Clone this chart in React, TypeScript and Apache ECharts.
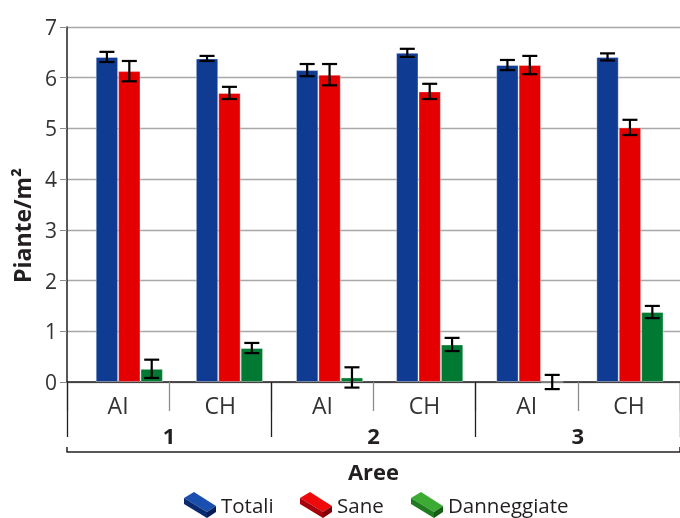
import React, { useEffect, useRef } from "react";
import * as echarts from "echarts";

const categories = ["AI", "CH", "AI", "CH", "AI", "CH"];
const areas = ["1", "2", "3"];
const seriesNames = ["Totali", "Sane", "Danneggiate"];
const totali = [6.41, 6.38, 6.15, 6.49, 6.25, 6.41];
const totaliErr = [0.1, 0.05, 0.12, 0.08, 0.1, 0.07];
const sane = [6.13, 5.7, 6.06, 5.73, 6.25, 5.02];
const saneErr = [0.2, 0.12, 0.21, 0.15, 0.18, 0.15];
const danneggiate = [0.26, 0.67, 0.09, 0.74, 0.0, 1.38];
const danneggiateErr = [0.18, 0.1, 0.2, 0.13, 0.14, 0.12];

const COLORS = ["#0f3c92", "#e40000", "#007a33"];
const FACES = [
  ["#1a4fb0", "#0a2a70", "#071f55"],
  ["#ee0a0a", "#a8000a", "#7e0008"],
  ["#3bab33", "#1f7d1f", "#155c15"],
];
const FONT = "'Open Sans', sans-serif";
const TEXT = "#231f20";
const BAR_W = 22.4;

export default function App() {
  const ref = useRef<HTMLDivElement>(null);
  useEffect(() => {
    if (!ref.current) return;
    const chart = echarts.init(ref.current, undefined, { renderer: "svg" });
    const values = [totali, sane, danneggiate];
    const errs = [totaliErr, saneErr, danneggiateErr];

    const errSeries = values.map((vals, s) => ({
      type: "custom",
      xAxisIndex: 0,
      yAxisIndex: 0,
      z: 5,
      silent: true,
      encode: { x: 0, y: 1 },
      data: vals.map((v, i) => [i, v, errs[s][i]]),
      renderItem: (params: any, api: any) => {
        const i = api.value(0);
        const v = api.value(1);
        const e = api.value(2);
        const x = api.coord([i, v])[0] + (s - 1) * BAR_W;
        const yt = api.coord([i, v + e])[1];
        const yb = api.coord([i, v - e])[1];
        const hw = 7.5;
        const st = { stroke: "#000", lineWidth: 2.2 };
        return {
          type: "group",
          children: [
            { type: "line", shape: { x1: x, y1: yt, x2: x, y2: yb }, style: st },
            { type: "line", shape: { x1: x - hw, y1: yt, x2: x + hw, y2: yt }, style: st },
            { type: "line", shape: { x1: x - hw, y1: yb, x2: x + hw, y2: yb }, style: st },
          ],
        };
      },
    }));

    const barSeries = values.map((vals, s) => ({
      type: "bar",
      name: seriesNames[s],
      xAxisIndex: 0,
      yAxisIndex: 0,
      barWidth: BAR_W,
      barGap: "0%",
      data: vals,
      itemStyle: {
        color: COLORS[s],
        borderColor: "rgba(255,255,255,0.35)",
        borderWidth: 1,
      },
    }));

    const legendGraphics: any[] = [];
    const legendX = [184, 300, 411];
    seriesNames.forEach((name, s) => {
      const ox = legendX[s];
      const oy = 492;
      const pts = (arr: number[][]) => arr.map(([a, b]) => [ox + a, oy + b]);
      legendGraphics.push(
        { type: "polygon", shape: { points: pts([[0, 6], [10, 0], [32, 14], [23, 20]]) }, style: { fill: FACES[s][0] } },
        { type: "polygon", shape: { points: pts([[0, 6], [23, 20], [23, 26], [0, 12]]) }, style: { fill: FACES[s][1] } },
        { type: "polygon", shape: { points: pts([[23, 20], [32, 14], [32, 20], [23, 26]]) }, style: { fill: FACES[s][2] } },
        {
          type: "text",
          x: ox + 37,
          y: 505,
          style: { text: name, fontFamily: FONT, fontSize: 20.5, fill: TEXT, verticalAlign: "middle" },
        }
      );
    });

    chart.setOption({
      animation: false,
      textStyle: { fontFamily: FONT },
      grid: [
        { left: 79.25, right: -2, top: 27, bottom: 136 },
        { left: 67, right: -3, top: 27, bottom: 136 },
      ],
      xAxis: [
        { type: "category", gridIndex: 0, data: categories, show: false },
        {
          type: "category",
          gridIndex: 1,
          data: categories,
          position: "bottom",
          axisLine: { show: true, lineStyle: { color: TEXT, width: 1.5 } },
          axisTick: { show: true, length: 29, interval: 0, lineStyle: { color: "#8c8c8c", width: 1.3 } },
          axisLabel: { interval: 0, fontSize: 23, margin: 11, color: "#333", fontFamily: FONT },
          splitLine: { show: false },
        },
        {
          type: "category",
          gridIndex: 1,
          data: areas,
          position: "bottom",
          axisLine: { show: false },
          axisTick: { show: true, length: 55, interval: 0, lineStyle: { color: TEXT, width: 1.3 } },
          axisLabel: { interval: 0, fontSize: 22, fontWeight: "bold", margin: 42, color: TEXT, fontFamily: FONT },
        },
        {
          type: "category",
          gridIndex: 1,
          data: [""],
          position: "bottom",
          offset: 70,
          axisLine: { show: true, lineStyle: { color: TEXT, width: 1.5 } },
          axisTick: { show: true, inside: true, length: 5, lineStyle: { color: TEXT, width: 1.5 } },
          axisLabel: { show: false },
          name: "Aree",
          nameLocation: "middle",
          nameGap: 8,
          nameTextStyle: { fontSize: 22, fontWeight: "bold", color: TEXT, fontFamily: FONT },
        },
      ],
      yAxis: [
        { type: "value", gridIndex: 0, min: 0, max: 7, interval: 1, show: false },
        {
          type: "value",
          gridIndex: 1,
          min: 0,
          max: 7,
          interval: 1,
          name: "Piante/m²",
          nameLocation: "middle",
          nameGap: 34,
          nameTextStyle: {
            fontSize: 23,
            fontWeight: "bold",
            color: TEXT,
            fontFamily: FONT,
            padding: [0, 42, 0, 0],
          },
          axisLine: { show: true, lineStyle: { color: TEXT, width: 1.5 } },
          axisTick: { show: true, length: 7, lineStyle: { color: "#8c8c8c" } },
          axisLabel: { fontSize: 21, margin: 10, color: "#333", fontFamily: FONT },
          splitLine: { show: true, lineStyle: { color: "#a8a8a8", width: 1.3 } },
        },
      ],
      series: [...barSeries, ...errSeries],
      graphic: legendGraphics,
    });
    return () => chart.dispose();
  }, []);
  return (
    <div
      ref={ref}
      style={{ position: "fixed", left: 0, top: 0, width: 680, height: 518 }}
    />
  );
}
